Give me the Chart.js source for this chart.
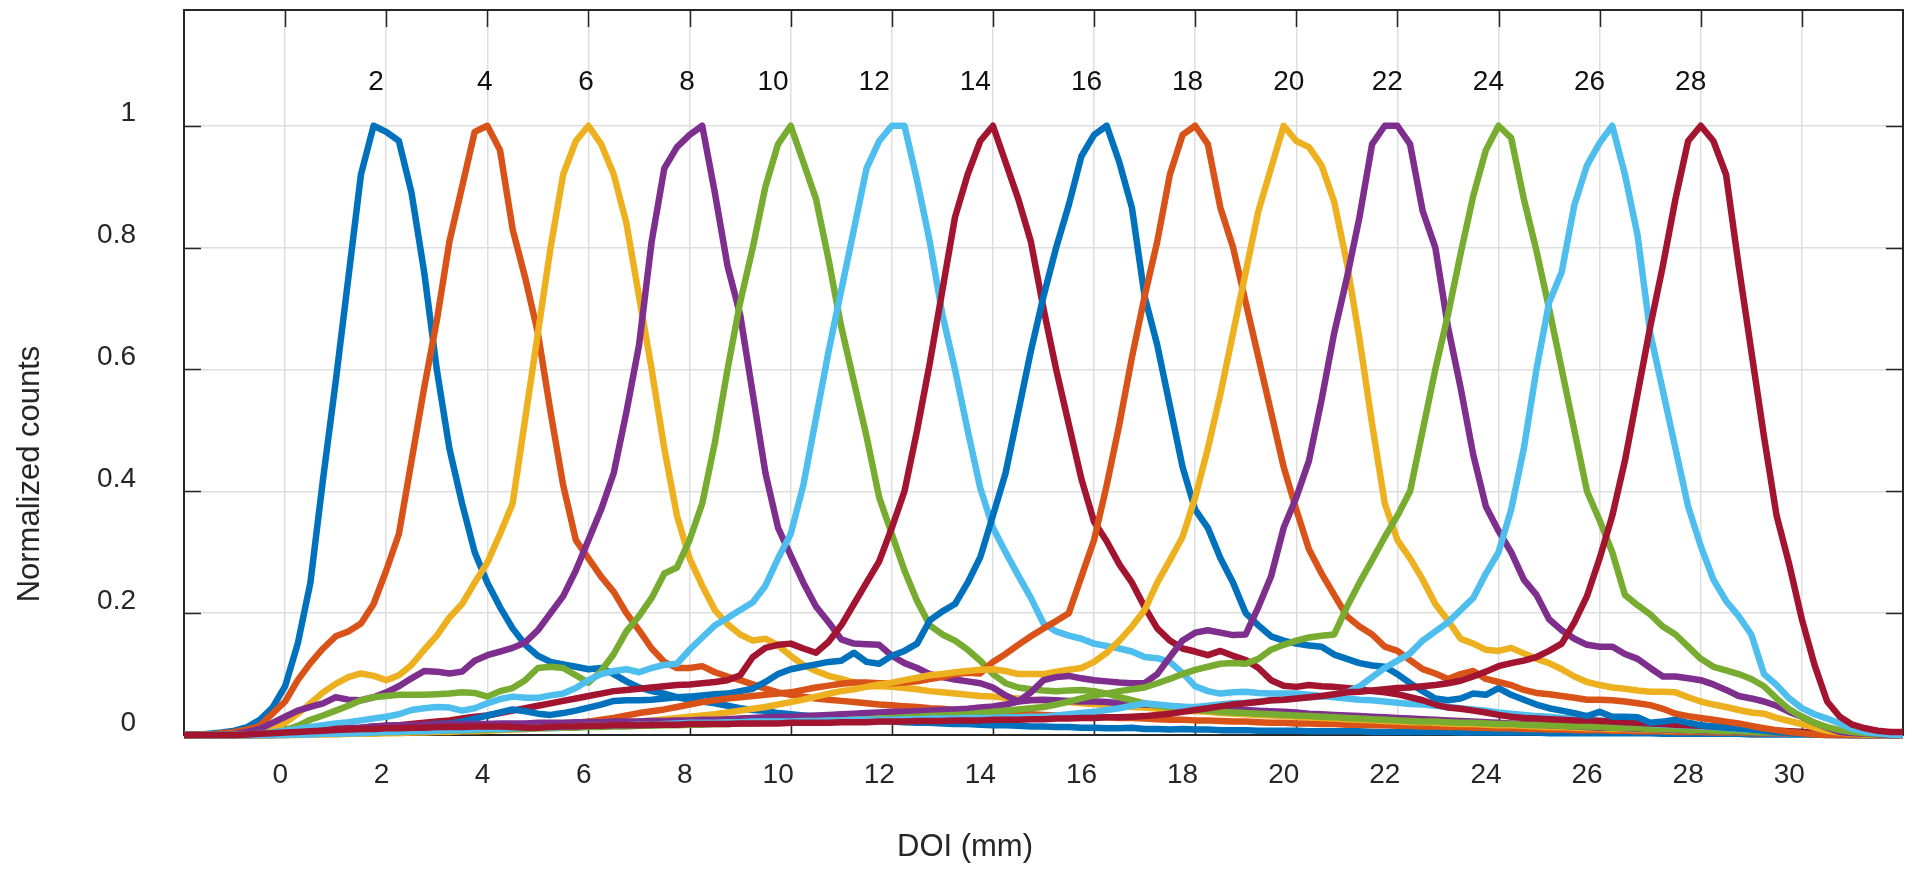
<!DOCTYPE html>
<html>
<head>
<meta charset="utf-8">
<script src="https://cdn.jsdelivr.net/npm/chart.js@4.4.1/dist/chart.umd.min.js"></script>
<style>
  html, body { margin: 0; padding: 0; background: #fff; }
  #wrap { width: 1920px; height: 872px; }
</style>
</head>
<body>
<div id="wrap"><canvas id="doiChart" width="1920" height="872"></canvas></div>
<script>
// DOI sampling grid: -2 mm to 32 mm, every 0.25 mm (137 points)
const doi = Array.from({ length: 137 }, (_, i) => -2 + i * 0.25);

// Normalized counts per irradiated depth, rows of 2 mm (8 samples)
const d2 = [
  0, 0, 0.002, 0.004, 0.007, 0.013, 0.025, 0.045,
  0.08, 0.15, 0.25, 0.42, 0.58, 0.75, 0.92, 1.0,
  0.99, 0.975, 0.89, 0.76, 0.6, 0.47, 0.38, 0.3,
  0.25, 0.21, 0.175, 0.148, 0.13, 0.12, 0.116, 0.112,
  0.108, 0.11, 0.1, 0.088, 0.078, 0.072, 0.068, 0.062,
  0.058, 0.055, 0.052, 0.048, 0.044, 0.041, 0.04, 0.036,
  0.034, 0.032, 0.03, 0.028, 0.027, 0.026, 0.024, 0.023,
  0.022, 0.021, 0.02, 0.02, 0.019, 0.018, 0.018, 0.017,
  0.016, 0.016, 0.015, 0.014, 0.014, 0.013, 0.013, 0.012,
  0.012, 0.011, 0.011, 0.012, 0.01, 0.01, 0.009, 0.01,
  0.009, 0.009, 0.008, 0.008, 0.008, 0.007, 0.007, 0.007,
  0.007, 0.006, 0.006, 0.006, 0.006, 0.006, 0.005, 0.005,
  0.005, 0.005, 0.005, 0.005, 0.005, 0.004, 0.004, 0.004,
  0.004, 0.004, 0.004, 0.004, 0.003, 0.003, 0.003, 0.003,
  0.003, 0.003, 0.003, 0.003, 0.003, 0.002, 0.002, 0.002,
  0.002, 0.002, 0.002, 0.002, 0.001, 0.001, 0.001, 0.001,
  0.001, 0.001, 0, 0, 0, 0, 0, 0,
  0
];
const d4 = [
  0, 0, 0.001, 0.003, 0.005, 0.009, 0.015, 0.035,
  0.055, 0.09, 0.118, 0.142, 0.162, 0.17, 0.183, 0.215,
  0.27, 0.33, 0.45, 0.57, 0.68, 0.81, 0.9, 0.99,
  1.0, 0.96, 0.83, 0.75, 0.66, 0.53, 0.41, 0.32,
  0.29, 0.26, 0.235, 0.2, 0.172, 0.142, 0.12, 0.11,
  0.11, 0.113, 0.103, 0.096, 0.09, 0.083, 0.076, 0.07,
  0.066, 0.063, 0.06, 0.058, 0.056, 0.054, 0.052, 0.05,
  0.049, 0.047, 0.046, 0.044, 0.043, 0.041, 0.04, 0.038,
  0.037, 0.036, 0.035, 0.034, 0.033, 0.032, 0.031, 0.03,
  0.03, 0.029, 0.028, 0.028, 0.027, 0.026, 0.025, 0.025,
  0.024, 0.024, 0.023, 0.022, 0.022, 0.021, 0.02, 0.02,
  0.019, 0.019, 0.018, 0.018, 0.017, 0.017, 0.016, 0.016,
  0.015, 0.015, 0.014, 0.014, 0.013, 0.013, 0.012, 0.012,
  0.011, 0.011, 0.01, 0.01, 0.009, 0.009, 0.008, 0.008,
  0.008, 0.007, 0.007, 0.006, 0.006, 0.006, 0.005, 0.005,
  0.005, 0.004, 0.004, 0.004, 0.003, 0.003, 0.003, 0.002,
  0.002, 0.002, 0.001, 0.001, 0, 0, 0, 0,
  0
];
const d6 = [
  0, 0, 0, 0.001, 0.002, 0.004, 0.007, 0.012,
  0.02, 0.035, 0.052, 0.07, 0.084, 0.095, 0.101, 0.097,
  0.09, 0.098, 0.115, 0.14, 0.163, 0.193, 0.215, 0.25,
  0.283, 0.33, 0.38, 0.52, 0.66, 0.8, 0.92, 0.975,
  1.0, 0.97, 0.92, 0.84, 0.72, 0.6, 0.47, 0.36,
  0.29, 0.245, 0.205, 0.182, 0.165, 0.155, 0.158, 0.147,
  0.13, 0.115, 0.105, 0.097, 0.092, 0.086, 0.08, 0.08,
  0.079, 0.077, 0.075, 0.072, 0.07, 0.068, 0.066, 0.064,
  0.063, 0.061, 0.06, 0.058, 0.057, 0.055, 0.054, 0.052,
  0.051, 0.049, 0.048, 0.046, 0.045, 0.043, 0.042, 0.04,
  0.039, 0.038, 0.036, 0.035, 0.034, 0.033, 0.032, 0.031,
  0.03, 0.029, 0.028, 0.027, 0.026, 0.025, 0.024, 0.023,
  0.022, 0.021, 0.021, 0.02, 0.019, 0.018, 0.018, 0.017,
  0.016, 0.016, 0.015, 0.014, 0.013, 0.013, 0.012, 0.011,
  0.011, 0.01, 0.01, 0.009, 0.009, 0.008, 0.008, 0.007,
  0.007, 0.006, 0.006, 0.005, 0.004, 0.004, 0.003, 0.003,
  0.002, 0.002, 0.001, 0.001, 0, 0, 0, 0,
  0
];
const d8 = [
  0, 0, 0, 0.001, 0.002, 0.005, 0.01, 0.02,
  0.03, 0.04, 0.046, 0.052, 0.062, 0.058, 0.057, 0.062,
  0.07, 0.08, 0.093, 0.105, 0.104, 0.101, 0.104, 0.122,
  0.131, 0.137, 0.143, 0.152, 0.172, 0.2, 0.228, 0.27,
  0.32, 0.37, 0.43, 0.53, 0.64, 0.81, 0.93, 0.965,
  0.985, 1.0, 0.89, 0.77, 0.69, 0.56, 0.43, 0.34,
  0.295, 0.25, 0.211, 0.185, 0.157, 0.15, 0.149, 0.148,
  0.13, 0.118, 0.11, 0.1, 0.095, 0.091, 0.088, 0.085,
  0.078, 0.065, 0.055, 0.057, 0.058, 0.057, 0.056, 0.055,
  0.055, 0.054, 0.052, 0.051, 0.05, 0.049, 0.047, 0.046,
  0.045, 0.044, 0.043, 0.042, 0.041, 0.04, 0.039, 0.038,
  0.037, 0.035, 0.034, 0.033, 0.032, 0.031, 0.03, 0.029,
  0.028, 0.027, 0.026, 0.025, 0.024, 0.023, 0.022, 0.021,
  0.02, 0.019, 0.018, 0.017, 0.016, 0.015, 0.014, 0.013,
  0.012, 0.012, 0.011, 0.01, 0.01, 0.009, 0.008, 0.008,
  0.007, 0.006, 0.006, 0.005, 0.004, 0.004, 0.003, 0.003,
  0.002, 0.002, 0.001, 0.001, 0, 0, 0, 0,
  0
];
const d10 = [
  0, 0, 0, 0, 0, 0.001, 0.002, 0.004,
  0.008, 0.015, 0.025, 0.032, 0.04, 0.048, 0.057, 0.062,
  0.064, 0.066, 0.066, 0.066, 0.067, 0.068, 0.07, 0.069,
  0.063, 0.072, 0.077, 0.09, 0.11, 0.112, 0.11, 0.098,
  0.086, 0.105, 0.133, 0.17, 0.195, 0.225, 0.265, 0.275,
  0.32, 0.38, 0.48, 0.6, 0.71, 0.8, 0.9, 0.97,
  1.0, 0.94, 0.88, 0.78, 0.67, 0.58, 0.49, 0.39,
  0.33, 0.27, 0.22, 0.18, 0.165, 0.155, 0.14, 0.122,
  0.1, 0.085, 0.078, 0.075, 0.073, 0.072, 0.073, 0.074,
  0.072, 0.068, 0.062, 0.057, 0.052, 0.048, 0.045, 0.043,
  0.041, 0.04, 0.038, 0.037, 0.036, 0.035, 0.034, 0.033,
  0.032, 0.031, 0.03, 0.029, 0.028, 0.027, 0.026, 0.025,
  0.024, 0.023, 0.022, 0.022, 0.021, 0.02, 0.02, 0.019,
  0.018, 0.018, 0.017, 0.016, 0.016, 0.015, 0.014, 0.014,
  0.013, 0.012, 0.012, 0.011, 0.01, 0.01, 0.009, 0.008,
  0.008, 0.007, 0.006, 0.006, 0.005, 0.004, 0.004, 0.003,
  0.003, 0.002, 0.002, 0.001, 0.001, 0, 0, 0,
  0
];
const d12 = [
  0, 0, 0, 0, 0, 0.001, 0.002, 0.004,
  0.007, 0.01, 0.013, 0.016, 0.019, 0.021, 0.024, 0.027,
  0.03, 0.034, 0.041, 0.044, 0.046, 0.045, 0.04, 0.044,
  0.052, 0.059, 0.063, 0.061, 0.061, 0.065, 0.068, 0.077,
  0.09, 0.1, 0.105, 0.108, 0.103, 0.11, 0.115, 0.117,
  0.14, 0.16, 0.18, 0.192, 0.205, 0.218, 0.245, 0.29,
  0.33, 0.41, 0.52, 0.63, 0.73, 0.83, 0.93, 0.975,
  1.0, 1.0, 0.91, 0.81, 0.69, 0.6, 0.5, 0.405,
  0.34, 0.3, 0.262, 0.225, 0.183, 0.17, 0.163, 0.158,
  0.15, 0.146, 0.142, 0.137, 0.128, 0.126, 0.12, 0.102,
  0.08, 0.072, 0.068, 0.07, 0.071, 0.069, 0.068, 0.068,
  0.068, 0.066, 0.064, 0.062, 0.06, 0.058, 0.057, 0.055,
  0.053, 0.051, 0.05, 0.048, 0.046, 0.044, 0.042, 0.04,
  0.037, 0.035, 0.033, 0.031, 0.03, 0.028, 0.027, 0.025,
  0.024, 0.022, 0.021, 0.02, 0.018, 0.017, 0.016, 0.015,
  0.014, 0.013, 0.012, 0.01, 0.009, 0.008, 0.007, 0.006,
  0.005, 0.004, 0.003, 0.002, 0.001, 0, 0, 0,
  0
];
const d14 = [
  0, 0, 0, 0, 0, 0, 0.001, 0.001,
  0.002, 0.003, 0.005, 0.007, 0.01, 0.011, 0.012, 0.014,
  0.015, 0.016, 0.018, 0.02, 0.022, 0.024, 0.027, 0.03,
  0.032, 0.036, 0.04, 0.044, 0.048, 0.052, 0.056, 0.06,
  0.064, 0.068, 0.072, 0.074, 0.076, 0.078, 0.08, 0.082,
  0.083, 0.085, 0.087, 0.09, 0.098, 0.128, 0.143, 0.148,
  0.15, 0.142, 0.135, 0.153, 0.18, 0.215, 0.25, 0.285,
  0.34, 0.4, 0.5, 0.61, 0.73, 0.85, 0.92, 0.975,
  1.0, 0.94, 0.88, 0.81, 0.7, 0.6, 0.51, 0.42,
  0.35, 0.318, 0.28, 0.25, 0.21, 0.175, 0.155, 0.142,
  0.137, 0.131, 0.138, 0.13, 0.123, 0.11, 0.09, 0.081,
  0.079, 0.082, 0.08, 0.079, 0.077, 0.075, 0.072, 0.07,
  0.067, 0.062, 0.057, 0.05, 0.045, 0.043, 0.04, 0.037,
  0.033, 0.03, 0.028, 0.027, 0.026, 0.025, 0.024, 0.024,
  0.023, 0.022, 0.021, 0.02, 0.019, 0.018, 0.017, 0.016,
  0.015, 0.014, 0.013, 0.011, 0.01, 0.008, 0.007, 0.006,
  0.005, 0.004, 0.003, 0.002, 0.001, 0, 0, 0,
  0
];
const d16 = [
  0, 0, 0, 0, 0, 0, 0, 0.001,
  0.002, 0.003, 0.004, 0.005, 0.006, 0.007, 0.008, 0.01,
  0.012, 0.013, 0.015, 0.016, 0.018, 0.019, 0.022, 0.027,
  0.032, 0.037, 0.042, 0.039, 0.035, 0.033, 0.036, 0.04,
  0.045, 0.05, 0.056, 0.057, 0.057, 0.058, 0.06, 0.062,
  0.063, 0.065, 0.067, 0.068, 0.072, 0.076, 0.087, 0.1,
  0.108, 0.112, 0.116, 0.12, 0.122, 0.135, 0.12, 0.117,
  0.13, 0.138, 0.15, 0.188, 0.203, 0.215, 0.25, 0.292,
  0.36, 0.43, 0.53, 0.63, 0.72, 0.8, 0.87, 0.95,
  0.985, 1.0, 0.94, 0.865, 0.72, 0.64, 0.54, 0.44,
  0.37, 0.34, 0.29, 0.25, 0.2, 0.18, 0.162, 0.155,
  0.15, 0.147, 0.145, 0.132, 0.125, 0.118, 0.114, 0.112,
  0.1, 0.085, 0.072, 0.06, 0.057, 0.06, 0.068, 0.066,
  0.077, 0.066, 0.058, 0.05, 0.044, 0.04, 0.036, 0.031,
  0.038, 0.03, 0.03, 0.029, 0.02, 0.022, 0.025, 0.02,
  0.016, 0.014, 0.012, 0.011, 0.009, 0.007, 0.005, 0.003,
  0.002, 0.001, 0.001, 0, 0, 0, 0, 0,
  0
];
const d18 = [
  0, 0, 0, 0, 0, 0, 0, 0,
  0, 0.001, 0.001, 0.002, 0.002, 0.003, 0.003, 0.004,
  0.004, 0.005, 0.005, 0.006, 0.007, 0.007, 0.008, 0.009,
  0.01, 0.011, 0.012, 0.013, 0.015, 0.016, 0.018, 0.02,
  0.022, 0.025, 0.028, 0.032, 0.036, 0.039, 0.042, 0.046,
  0.05, 0.054, 0.057, 0.06, 0.062, 0.064, 0.066, 0.068,
  0.07, 0.074, 0.078, 0.081, 0.084, 0.086, 0.086, 0.085,
  0.085, 0.086, 0.088, 0.092, 0.095, 0.1, 0.102, 0.101,
  0.12, 0.133, 0.148, 0.162, 0.175, 0.187, 0.2, 0.26,
  0.32, 0.41, 0.51, 0.62, 0.72, 0.81, 0.92, 0.985,
  1.0, 0.97, 0.865, 0.8, 0.71, 0.62, 0.53, 0.44,
  0.37, 0.305, 0.265, 0.23, 0.195, 0.178, 0.165, 0.145,
  0.138, 0.123, 0.108, 0.101, 0.092, 0.1, 0.105, 0.092,
  0.087, 0.082, 0.074, 0.069, 0.067, 0.064, 0.061, 0.058,
  0.058, 0.057, 0.055, 0.052, 0.049, 0.043, 0.035, 0.031,
  0.028, 0.025, 0.022, 0.019, 0.015, 0.011, 0.008, 0.005,
  0.003, 0.001, 0, 0, 0, 0, 0, 0,
  0
];
const d20 = [
  0, 0, 0, 0, 0, 0, 0, 0,
  0, 0, 0.001, 0.001, 0.001, 0.002, 0.002, 0.002,
  0.003, 0.003, 0.004, 0.004, 0.005, 0.005, 0.006, 0.006,
  0.007, 0.008, 0.009, 0.01, 0.011, 0.012, 0.013, 0.014,
  0.015, 0.016, 0.018, 0.02, 0.022, 0.024, 0.026, 0.028,
  0.03, 0.032, 0.034, 0.037, 0.04, 0.043, 0.046, 0.05,
  0.054, 0.058, 0.063, 0.068, 0.072, 0.075, 0.079, 0.083,
  0.086, 0.09, 0.094, 0.098, 0.1, 0.103, 0.105, 0.107,
  0.108, 0.105, 0.1, 0.1, 0.1, 0.104, 0.107, 0.11,
  0.12, 0.135, 0.155, 0.178, 0.205, 0.25, 0.287, 0.325,
  0.39, 0.47, 0.56, 0.66, 0.76, 0.86, 0.93, 1.0,
  0.975, 0.965, 0.935, 0.875, 0.775, 0.65, 0.51, 0.38,
  0.32, 0.29, 0.255, 0.215, 0.188, 0.158, 0.15, 0.14,
  0.138, 0.143, 0.134, 0.125, 0.118, 0.108, 0.096, 0.087,
  0.082, 0.078, 0.076, 0.073, 0.071, 0.071, 0.07, 0.062,
  0.055, 0.05, 0.046, 0.041, 0.037, 0.035, 0.028, 0.023,
  0.018, 0.012, 0.007, 0.004, 0.002, 0.001, 0, 0,
  0
];
const d22 = [
  0, 0, 0, 0, 0, 0, 0, 0,
  0.002, 0.003, 0.004, 0.006, 0.008, 0.01, 0.012, 0.014,
  0.015, 0.016, 0.016, 0.017, 0.017, 0.018, 0.018, 0.018,
  0.018, 0.019, 0.019, 0.019, 0.02, 0.02, 0.02, 0.021,
  0.021, 0.021, 0.022, 0.022, 0.022, 0.023, 0.023, 0.024,
  0.024, 0.025, 0.025, 0.026, 0.027, 0.028, 0.029, 0.03,
  0.03, 0.031, 0.032, 0.033, 0.034, 0.035, 0.036, 0.037,
  0.038, 0.038, 0.039, 0.04, 0.041, 0.042, 0.043, 0.045,
  0.047, 0.05, 0.055, 0.07, 0.09, 0.095, 0.097, 0.093,
  0.09, 0.088, 0.086, 0.085, 0.085, 0.1, 0.128, 0.155,
  0.168, 0.172, 0.168, 0.164, 0.165, 0.21, 0.26, 0.34,
  0.39, 0.45, 0.55, 0.66, 0.75, 0.85, 0.97, 1.0,
  1.0, 0.97, 0.86, 0.8, 0.67, 0.57, 0.46, 0.375,
  0.335, 0.3, 0.255, 0.23, 0.19, 0.172, 0.158, 0.148,
  0.145, 0.145, 0.133, 0.125, 0.11, 0.096, 0.096, 0.093,
  0.09, 0.083, 0.074, 0.064, 0.06, 0.055, 0.048, 0.038,
  0.03, 0.02, 0.012, 0.005, 0.003, 0.002, 0.001, 0,
  0
];
const d24 = [
  0, 0, 0, 0, 0, 0, 0, 0,
  0.001, 0.001, 0.002, 0.002, 0.003, 0.003, 0.004, 0.004,
  0.005, 0.005, 0.006, 0.006, 0.007, 0.007, 0.008, 0.008,
  0.009, 0.009, 0.01, 0.01, 0.011, 0.011, 0.012, 0.012,
  0.013, 0.013, 0.014, 0.014, 0.015, 0.015, 0.016, 0.016,
  0.017, 0.017, 0.018, 0.018, 0.019, 0.019, 0.02, 0.02,
  0.021, 0.021, 0.022, 0.023, 0.024, 0.025, 0.026, 0.027,
  0.028, 0.029, 0.03, 0.031, 0.032, 0.033, 0.034, 0.036,
  0.038, 0.04, 0.042, 0.044, 0.046, 0.05, 0.055, 0.06,
  0.065, 0.068, 0.072, 0.075, 0.078, 0.085, 0.092, 0.1,
  0.107, 0.112, 0.117, 0.118, 0.117, 0.125, 0.14, 0.148,
  0.155, 0.16, 0.163, 0.165, 0.21, 0.25, 0.287, 0.325,
  0.36, 0.4, 0.5, 0.6, 0.69, 0.79, 0.885, 0.96,
  1.0, 0.98, 0.88, 0.795, 0.7, 0.6, 0.5, 0.4,
  0.352, 0.3, 0.23, 0.213, 0.198, 0.178, 0.165, 0.145,
  0.125, 0.112, 0.106, 0.1, 0.092, 0.08, 0.06, 0.042,
  0.03, 0.02, 0.013, 0.008, 0.005, 0.003, 0.002, 0.001,
  0
];
const d26 = [
  0, 0, 0, 0, 0, 0, 0, 0,
  0, 0.001, 0.001, 0.002, 0.002, 0.003, 0.003, 0.004,
  0.005, 0.005, 0.006, 0.006, 0.007, 0.008, 0.008, 0.009,
  0.01, 0.01, 0.011, 0.011, 0.012, 0.012, 0.013, 0.014,
  0.015, 0.015, 0.016, 0.016, 0.017, 0.017, 0.018, 0.019,
  0.02, 0.02, 0.02, 0.021, 0.021, 0.022, 0.022, 0.022,
  0.022, 0.023, 0.023, 0.024, 0.024, 0.025, 0.025, 0.025,
  0.025, 0.026, 0.026, 0.027, 0.027, 0.027, 0.028, 0.028,
  0.028, 0.029, 0.029, 0.03, 0.03, 0.032, 0.034, 0.036,
  0.038, 0.041, 0.044, 0.048, 0.052, 0.05, 0.048, 0.046,
  0.046, 0.048, 0.05, 0.052, 0.053, 0.055, 0.057, 0.058,
  0.06, 0.062, 0.063, 0.066, 0.07, 0.08, 0.095, 0.11,
  0.122, 0.134, 0.155, 0.17, 0.185, 0.205, 0.225, 0.265,
  0.3, 0.37, 0.47, 0.6, 0.71, 0.76, 0.87, 0.935,
  0.972, 1.0, 0.92, 0.82, 0.66, 0.565, 0.47, 0.375,
  0.31, 0.255, 0.22, 0.195, 0.165, 0.1, 0.082, 0.06,
  0.044, 0.034, 0.027, 0.019, 0.01, 0.005, 0.003, 0.001,
  0
];
const d28 = [
  0, 0, 0, 0, 0, 0.001, 0.002, 0.003,
  0.004, 0.005, 0.006, 0.007, 0.008, 0.009, 0.01, 0.01,
  0.011, 0.011, 0.012, 0.012, 0.013, 0.013, 0.013, 0.014,
  0.014, 0.014, 0.013, 0.012, 0.012, 0.013, 0.014, 0.014,
  0.015, 0.015, 0.016, 0.016, 0.016, 0.017, 0.017, 0.017,
  0.018, 0.018, 0.018, 0.018, 0.019, 0.019, 0.019, 0.019,
  0.02, 0.02, 0.02, 0.02, 0.021, 0.021, 0.021, 0.022,
  0.022, 0.022, 0.023, 0.023, 0.023, 0.024, 0.024, 0.024,
  0.025, 0.025, 0.025, 0.026, 0.026, 0.027, 0.027, 0.028,
  0.028, 0.029, 0.029, 0.03, 0.031, 0.033, 0.035, 0.038,
  0.041, 0.044, 0.047, 0.05, 0.052, 0.054, 0.057, 0.058,
  0.06, 0.062, 0.064, 0.067, 0.07, 0.071, 0.073, 0.075,
  0.077, 0.078, 0.08, 0.082, 0.085, 0.089, 0.096, 0.104,
  0.113, 0.118, 0.122, 0.128, 0.138, 0.15, 0.185, 0.228,
  0.29, 0.36, 0.45, 0.56, 0.67, 0.77, 0.88, 0.975,
  1.0, 0.975, 0.92, 0.77, 0.63, 0.49, 0.36, 0.28,
  0.19, 0.115, 0.055, 0.03, 0.017, 0.011, 0.007, 0.005,
  0.005
];

const seriesNames = ['2', '4', '6', '8', '10', '12', '14', '16', '18', '20', '22', '24', '26', '28'];
const seriesValues = [d2, d4, d6, d8, d10, d12, d14, d16, d18, d20, d22, d24, d26, d28];
// where each peak label sits along DOI, and its height
const peakLabelAt = [1.8, 3.95, 5.95, 7.95, 9.65, 11.65, 13.65, 15.85, 17.85, 19.85, 21.8, 23.8, 25.8, 27.8];
const peakLabelLevel = 1.072;

const xTicks = [0, 2, 4, 6, 8, 10, 12, 14, 16, 18, 20, 22, 24, 26, 28, 30];
const yTicks = [0, 0.2, 0.4, 0.6, 0.8, 1];

// MATLAB default colour order
const palette = ['#0072BD', '#D95319', '#EDB120', '#7E2F8E', '#77AC30', '#4DBEEE', '#A2142F'];

const FONT = '"Liberation Sans", Arial, Helvetica, sans-serif';
const AXIS_COLOR = '#262626';

const datasets = seriesValues.map((vals, i) => ({
  label: seriesNames[i],
  data: doi.map((x, k) => ({ x: x, y: vals[k] })),
  borderColor: palette[i % palette.length],
  borderWidth: 6.5,
  pointRadius: 0,
  tension: 0,
  fill: false,
  borderJoinStyle: 'round',
  borderCapStyle: 'round',
  clip: { left: 0, top: 0, right: 0, bottom: 6 },
  order: seriesValues.length - 1 - i   // later curves on top, like MATLAB
}));

// box + inward tick marks, drawn under the curves
const boxPlugin = {
  id: 'box',
  beforeDatasetsDraw(chart) {
    const { ctx, chartArea: a, scales: { x, y } } = chart;
    const len = 17;
    ctx.save();
    ctx.strokeStyle = AXIS_COLOR;
    ctx.lineWidth = 1.5;
    ctx.beginPath();
    xTicks.forEach(v => {
      const px = Math.round(x.getPixelForValue(v)) + 0.5;
      ctx.moveTo(px, a.top); ctx.lineTo(px, a.top + len);
      ctx.moveTo(px, a.bottom); ctx.lineTo(px, a.bottom - len);
    });
    yTicks.forEach(v => {
      const py = Math.round(y.getPixelForValue(v)) + 0.5;
      ctx.moveTo(a.left, py); ctx.lineTo(a.left + len, py);
      ctx.moveTo(a.right, py); ctx.lineTo(a.right - len, py);
    });
    ctx.stroke();
    ctx.lineWidth = 2;
    ctx.strokeRect(a.left, a.top, a.right - a.left, a.bottom - a.top);
    ctx.restore();
  }
};

// peak labels and axis titles
const textPlugin = {
  id: 'texts',
  afterDatasetsDraw(chart) {
    const { ctx, scales: { x, y } } = chart;
    ctx.save();
    ctx.fillStyle = '#111';
    ctx.font = '28px ' + FONT;
    ctx.textAlign = 'center';
    ctx.textBaseline = 'middle';
    seriesNames.forEach((name, i) => {
      ctx.fillText(name, x.getPixelForValue(peakLabelAt[i]), y.getPixelForValue(peakLabelLevel));
    });

    ctx.fillStyle = AXIS_COLOR;
    ctx.font = '31px ' + FONT;
    ctx.fillText('DOI (mm)', 965, 847);
    ctx.translate(30, 474);
    ctx.rotate(-Math.PI / 2);
    ctx.fillText('Normalized counts', 0, 0);
    ctx.restore();
  }
};

new Chart(document.getElementById('doiChart').getContext('2d'), {
  type: 'line',
  data: { datasets: datasets },
  options: {
    responsive: false,
    animation: false,
    devicePixelRatio: 1,
    layout: { padding: { top: 10, right: 17, bottom: 0, left: 0 } },
    plugins: {
      legend: { display: false },
      tooltip: { enabled: false }
    },
    scales: {
      x: {
        type: 'linear',
        min: -2,
        max: 32,
        afterBuildTicks: axis => { axis.ticks = xTicks.map(v => ({ value: v })); },
        afterFit: axis => {
          axis.height = 137;
          axis.paddingLeft = 0;
          axis.paddingRight = 0;
        },
        border: { display: false },
        grid: { color: '#dedede', lineWidth: 1.5, drawTicks: false },
        ticks: {
          autoSkip: false,
          maxRotation: 0,
          align: 'end',
          labelOffset: 3,
          padding: 23,
          color: AXIS_COLOR,
          font: { family: FONT, size: 28 },
          callback: v => String(v)
        }
      },
      y: {
        type: 'linear',
        min: 0,
        max: 1.19,
        afterBuildTicks: axis => { axis.ticks = yTicks.map(v => ({ value: v })); },
        afterFit: axis => {
          axis.width = 184;
          // tick padding would otherwise push the plot box down
          axis.paddingTop = 0;
          axis.paddingBottom = 0;
        },
        border: { display: false },
        grid: { color: '#dedede', lineWidth: 1.5, drawTicks: false },
        ticks: {
          padding: 48,
          labelOffset: -12,
          color: AXIS_COLOR,
          font: { family: FONT, size: 28 },
          callback: v => String(v)
        }
      }
    }
  },
  plugins: [boxPlugin, textPlugin]
});
</script>
</body>
</html>
